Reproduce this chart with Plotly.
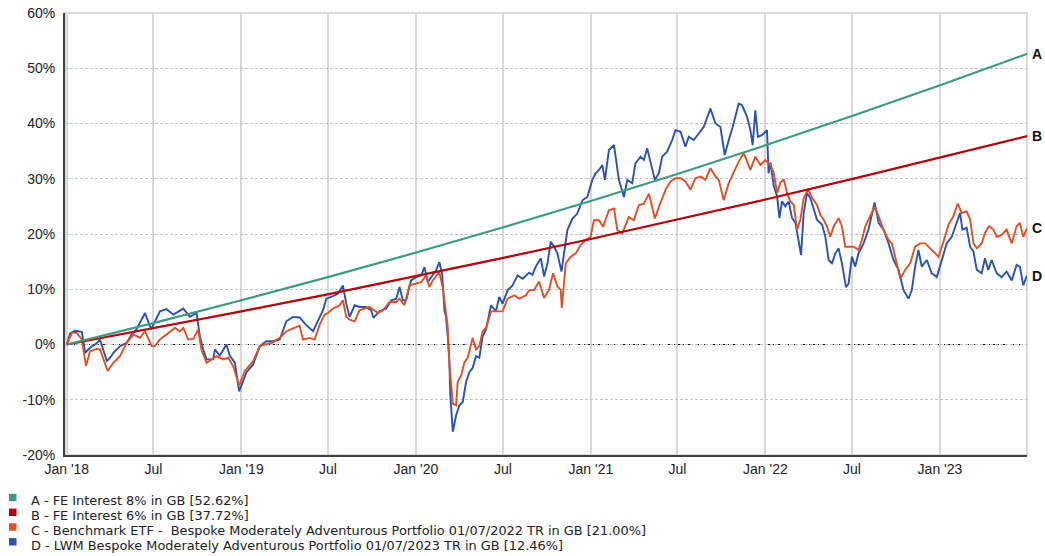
import numpy as np
import pandas as pd
import plotly.graph_objects as go

# ---------------- data ----------------
A_YEARS = [2018.0, 2018.5, 2019.0, 2019.5, 2020.0, 2020.5, 2021.0, 2021.5, 2022.0, 2022.5, 2023.0, 2023.5]
A_VALUES = [0.0, 3.92, 8.0, 12.24, 16.64, 21.22, 25.97, 30.91, 36.05, 41.39, 46.93, 52.62]

B_YEARS = [2018.0, 2018.5, 2019.0, 2019.5, 2020.0, 2020.5, 2021.0, 2021.5, 2022.0, 2022.5, 2023.0, 2023.5]
B_VALUES = [0.0, 2.96, 6.0, 9.13, 12.36, 15.68, 19.10, 22.62, 26.25, 29.98, 33.82, 37.72]

C_POINTS = [
    (2018.000, 0.0), (2018.029, 2.1), (2018.057, 2.1), (2018.086, 0.9), (2018.110, -3.9),
    (2018.133, -1.2), (2018.171, -0.8), (2018.190, -0.9), (2018.234, -4.8), (2018.267, -3.3),
    (2018.305, -2.1), (2018.343, 0.3), (2018.381, 1.8), (2018.419, 1.2), (2018.448, 2.4),
    (2018.486, -0.3), (2018.505, -0.3), (2018.533, 0.9), (2018.571, 1.8), (2018.619, 3.0),
    (2018.648, 2.4), (2018.667, 3.0), (2018.695, 0.9), (2018.724, 1.0), (2018.752, 2.7),
    (2018.771, -0.9), (2018.800, -3.3), (2018.829, -2.7), (2018.857, -2.1), (2018.895, -2.7),
    (2018.924, -2.4), (2018.952, -3.9), (2018.987, -7.4), (2019.019, -4.8), (2019.067, -3.0),
    (2019.105, -0.3), (2019.143, 0.0), (2019.181, 0.4), (2019.219, 1.2), (2019.257, 2.4),
    (2019.295, 2.9), (2019.333, 3.4), (2019.352, 0.9), (2019.390, 1.2), (2019.419, 0.9),
    (2019.448, 3.6), (2019.476, 5.4), (2019.495, 5.7), (2019.524, 6.5), (2019.562, 7.1),
    (2019.581, 8.0), (2019.600, 5.0), (2019.619, 4.5), (2019.648, 4.2), (2019.676, 6.2),
    (2019.733, 6.8), (2019.781, 5.7), (2019.810, 6.2), (2019.848, 7.7), (2019.886, 7.7),
    (2019.905, 8.3), (2019.933, 7.1), (2019.962, 10.7), (2020.000, 11.0), (2020.029, 11.3),
    (2020.057, 12.5), (2020.076, 10.4), (2020.095, 11.6), (2020.133, 13.1), (2020.152, 10.4),
    (2020.162, 8.0), (2020.181, 3.3), (2020.190, -3.3), (2020.200, -6.8), (2020.210, -10.7),
    (2020.229, -11.0), (2020.238, -6.8), (2020.257, -5.7), (2020.276, -3.3), (2020.295, -2.4),
    (2020.324, 1.2), (2020.343, -0.9), (2020.362, -0.3), (2020.381, 2.4), (2020.400, 3.0),
    (2020.429, 6.0), (2020.457, 6.0), (2020.495, 6.0), (2020.524, 8.3), (2020.562, 8.9),
    (2020.590, 8.3), (2020.629, 8.9), (2020.647, 9.8), (2020.676, 9.9), (2020.704, 11.4),
    (2020.733, 8.4), (2020.761, 9.9), (2020.784, 12.9), (2020.809, 10.5), (2020.828, 9.9),
    (2020.834, 6.6), (2020.857, 14.7), (2020.885, 15.9), (2020.914, 16.5), (2020.942, 18.0),
    (2020.971, 18.9), (2020.999, 19.5), (2021.018, 22.5), (2021.047, 22.5), (2021.070, 21.3),
    (2021.104, 24.3), (2021.133, 24.6), (2021.152, 20.7), (2021.180, 20.1), (2021.218, 23.1),
    (2021.247, 22.5), (2021.275, 25.2), (2021.304, 25.5), (2021.333, 27.3), (2021.348, 25.5),
    (2021.367, 22.8), (2021.390, 24.9), (2021.428, 28.0), (2021.457, 29.5), (2021.485, 30.1),
    (2021.514, 30.1), (2021.542, 29.5), (2021.571, 28.0), (2021.599, 30.1), (2021.628, 30.4),
    (2021.656, 29.8), (2021.685, 31.9), (2021.714, 30.4), (2021.733, 29.8), (2021.761, 26.1),
    (2021.790, 29.2), (2021.818, 31.0), (2021.847, 33.1), (2021.876, 34.6), (2021.895, 33.1),
    (2021.914, 31.6), (2021.942, 34.0), (2021.971, 32.5), (2021.999, 33.4), (2022.028, 32.5),
    (2022.048, 31.0), (2022.067, 27.4), (2022.086, 29.3), (2022.105, 29.9), (2022.124, 27.4),
    (2022.143, 25.9), (2022.162, 25.3), (2022.181, 20.8), (2022.200, 22.6), (2022.219, 26.5),
    (2022.244, 28.1), (2022.267, 26.5), (2022.295, 25.3), (2022.314, 23.5), (2022.333, 22.6),
    (2022.352, 21.4), (2022.371, 19.5), (2022.391, 21.4), (2022.419, 22.9), (2022.438, 21.4),
    (2022.457, 17.7), (2022.476, 17.7), (2022.505, 17.7), (2022.533, 17.1), (2022.552, 18.9),
    (2022.572, 21.4), (2022.600, 23.2), (2022.625, 24.9), (2022.648, 23.2), (2022.676, 20.8),
    (2022.705, 18.9), (2022.724, 18.3), (2022.752, 14.7), (2022.772, 11.9), (2022.800, 13.5),
    (2022.829, 14.7), (2022.857, 17.7), (2022.886, 18.3), (2022.914, 18.3), (2022.943, 17.4),
    (2022.972, 16.5), (2022.991, 15.9), (2023.019, 18.6), (2023.048, 21.7), (2023.076, 23.2),
    (2023.101, 25.5), (2023.124, 23.8), (2023.152, 24.1), (2023.172, 22.6), (2023.191, 18.3),
    (2023.210, 17.4), (2023.238, 18.3), (2023.257, 20.2), (2023.281, 21.4), (2023.305, 20.8),
    (2023.324, 19.5), (2023.352, 19.8), (2023.381, 20.8), (2023.410, 18.3), (2023.438, 21.4),
    (2023.457, 22.0), (2023.476, 19.5), (2023.497, 21.0),
]

D_POINTS = [
    (2018.000, 0.0), (2018.019, 2.0), (2018.048, 2.5), (2018.086, 2.3), (2018.105, -1.5),
    (2018.133, -0.6), (2018.171, 0.2), (2018.190, 0.9), (2018.229, -3.0), (2018.248, -2.4),
    (2018.267, -1.5), (2018.305, -0.3), (2018.343, 0.3), (2018.371, 1.8), (2018.400, 2.8),
    (2018.448, 5.7), (2018.476, 3.3), (2018.486, 2.9), (2018.533, 6.0), (2018.571, 6.4),
    (2018.610, 5.4), (2018.667, 6.5), (2018.705, 5.0), (2018.743, 5.7), (2018.762, 1.5),
    (2018.781, -0.9), (2018.800, -2.7), (2018.838, -2.7), (2018.848, -0.9), (2018.876, -2.0),
    (2018.914, 0.0), (2018.933, -2.0), (2018.962, -3.3), (2018.987, -8.5), (2019.029, -5.0),
    (2019.067, -3.6), (2019.105, -0.3), (2019.143, 0.6), (2019.181, 0.6), (2019.219, 0.9),
    (2019.257, 4.2), (2019.295, 5.0), (2019.333, 4.9), (2019.371, 3.5), (2019.410, 2.4),
    (2019.438, 4.2), (2019.467, 6.2), (2019.486, 8.3), (2019.514, 8.6), (2019.552, 9.2),
    (2019.581, 10.7), (2019.600, 7.4), (2019.619, 5.0), (2019.648, 7.1), (2019.676, 6.8),
    (2019.714, 6.8), (2019.743, 6.2), (2019.756, 4.8), (2019.790, 6.0), (2019.829, 6.5),
    (2019.857, 8.0), (2019.886, 8.3), (2019.905, 10.4), (2019.924, 8.0), (2019.943, 8.0),
    (2019.971, 11.6), (2020.000, 12.2), (2020.029, 12.5), (2020.048, 14.0), (2020.067, 11.3),
    (2020.086, 12.2), (2020.114, 13.4), (2020.133, 14.9), (2020.149, 12.8), (2020.162, 6.2),
    (2020.171, 5.0), (2020.181, 1.5), (2020.190, -2.7), (2020.196, -9.2), (2020.210, -15.8),
    (2020.229, -12.8), (2020.248, -11.0), (2020.267, -10.4), (2020.286, -6.8), (2020.305, -5.0),
    (2020.324, -4.2), (2020.343, -2.1), (2020.362, -2.4), (2020.381, 1.5), (2020.400, 2.7),
    (2020.429, 7.1), (2020.457, 6.0), (2020.476, 8.6), (2020.495, 7.4), (2020.524, 9.8),
    (2020.552, 10.7), (2020.581, 12.5), (2020.610, 11.9), (2020.647, 13.0), (2020.666, 12.6),
    (2020.685, 14.1), (2020.714, 15.6), (2020.733, 12.3), (2020.752, 14.7), (2020.771, 18.6),
    (2020.790, 17.7), (2020.809, 16.5), (2020.832, 13.2), (2020.847, 16.5), (2020.866, 20.7),
    (2020.895, 22.8), (2020.923, 23.7), (2020.952, 26.1), (2020.980, 26.7), (2021.009, 29.8),
    (2021.028, 31.0), (2021.047, 31.6), (2021.066, 32.5), (2021.081, 29.8), (2021.104, 35.2),
    (2021.133, 36.1), (2021.146, 32.8), (2021.161, 29.8), (2021.190, 26.7), (2021.209, 29.8),
    (2021.237, 29.2), (2021.256, 32.8), (2021.285, 34.0), (2021.304, 33.4), (2021.323, 35.5),
    (2021.342, 33.1), (2021.367, 29.8), (2021.390, 31.0), (2021.409, 34.0), (2021.437, 34.9),
    (2021.466, 37.0), (2021.485, 38.8), (2021.514, 38.5), (2021.542, 35.8), (2021.561, 37.6),
    (2021.590, 37.0), (2021.618, 38.2), (2021.647, 39.4), (2021.685, 42.7), (2021.714, 40.0),
    (2021.742, 39.4), (2021.767, 34.3), (2021.790, 37.0), (2021.813, 39.4), (2021.847, 43.6),
    (2021.866, 43.3), (2021.895, 41.2), (2021.914, 38.8), (2021.927, 36.1), (2021.942, 42.4),
    (2021.957, 37.6), (2021.980, 37.9), (2022.009, 38.8), (2022.018, 31.0), (2022.029, 32.9),
    (2022.048, 28.7), (2022.067, 26.8), (2022.080, 22.9), (2022.095, 25.9), (2022.114, 25.0),
    (2022.133, 25.9), (2022.152, 22.9), (2022.172, 22.0), (2022.191, 18.9), (2022.204, 16.2),
    (2022.219, 23.8), (2022.238, 27.4), (2022.257, 26.5), (2022.276, 24.4), (2022.295, 22.6),
    (2022.324, 21.7), (2022.343, 19.5), (2022.362, 15.3), (2022.381, 14.7), (2022.400, 16.5),
    (2022.419, 17.4), (2022.438, 14.7), (2022.461, 10.4), (2022.476, 11.0), (2022.495, 15.9),
    (2022.514, 14.1), (2022.533, 16.5), (2022.562, 18.3), (2022.590, 20.8), (2022.625, 25.7),
    (2022.648, 22.0), (2022.676, 20.8), (2022.705, 18.3), (2022.733, 15.3), (2022.762, 13.5),
    (2022.791, 9.8), (2022.819, 8.3), (2022.838, 9.8), (2022.857, 14.1), (2022.876, 17.1),
    (2022.895, 14.1), (2022.924, 15.3), (2022.952, 12.9), (2022.981, 12.2), (2023.010, 15.3),
    (2023.038, 18.3), (2023.067, 19.5), (2023.095, 22.3), (2023.114, 23.8), (2023.128, 20.8),
    (2023.152, 21.1), (2023.172, 17.7), (2023.191, 16.8), (2023.210, 13.5), (2023.238, 12.9),
    (2023.257, 15.6), (2023.276, 13.5), (2023.295, 15.3), (2023.324, 12.9), (2023.352, 12.2),
    (2023.381, 13.2), (2023.410, 11.6), (2023.438, 14.4), (2023.457, 14.1), (2023.476, 10.7),
    (2023.497, 12.46),
]

TICK_DATES = ["2018-01-01", "2018-07-01", "2019-01-01", "2019-07-01", "2020-01-01", "2020-07-01",
              "2021-01-01", "2021-07-01", "2022-01-01", "2022-07-01", "2023-01-01"]
TICK_LABELS = ["Jan '18", "Jul", "Jan '19", "Jul", "Jan '20", "Jul",
               "Jan '21", "Jul", "Jan '22", "Jul", "Jan '23"]
Y_TICKS = [-20, -10, 0, 10, 20, 30, 40, 50, 60]

END_LABELS = ["A", "B", "C", "D"]
LEGEND_TEXTS = [
    "A - FE Interest 8% in GB [52.62%]",
    "B - FE Interest 6% in GB [37.72%]",
    "C - Benchmark ETF -  Bespoke Moderately Adventurous Portfolio 01/07/2022 TR in GB [21.00%]",
    "D - LWM Bespoke Moderately Adventurous Portfolio 01/07/2023 TR in GB [12.46%]",
]
COLORS = ["#3f9a82", "#b4000c", "#de5028", "#2b52b0"]

# ---------------- helpers ----------------
def to_dates(years):
    yrs = np.asarray(years, dtype=float)
    return pd.Timestamp("2018-01-01") + pd.to_timedelta((yrs - 2018.0) * 365.25, unit="D")

c_years = [p[0] for p in C_POINTS]
c_vals = [p[1] for p in C_POINTS]
d_years = [p[0] for p in D_POINTS]
d_vals = [p[1] for p in D_POINTS]

series = {
    "A": (to_dates(A_YEARS), A_VALUES),
    "B": (to_dates(B_YEARS), B_VALUES),
    "C": (to_dates(c_years), c_vals),
    "D": (to_dates(d_years), d_vals),
}

W, H = 1045, 556
ML, MR, MT, MB = 65, 18, 13, 101
PW, PH = W - ML - MR, H - MT - MB

def px_x(px):
    return (px - ML) / PW

def px_y(py):
    return (H - MB - py) / PH

fig = go.Figure()

for key in ["D", "C", "B", "A"]:
    idx = END_LABELS.index(key)
    xs, ys = series[key]
    fig.add_trace(go.Scatter(
        x=xs, y=ys, mode="lines", name=LEGEND_TEXTS[idx],
        line=dict(color=COLORS[idx], width=2.2 if key in "AB" else 1.9),
        showlegend=False, hoverinfo="skip",
    ))

annotations = []
shapes = []

# plot border (light) and zero line
shapes.append(dict(type="rect", xref="paper", yref="paper", x0=0, x1=1, y0=0, y1=1,
                   line=dict(color="#cfcfcf", width=1.5), layer="below"))
shapes.append(dict(type="line", xref="paper", yref="y", x0=0, x1=1, y0=0, y1=0,
                   line=dict(color="#111111", width=1, dash="4px,2px,1px,2px"), layer="below"))

# end labels
for idx, key in enumerate(END_LABELS):
    xs, ys = series[key]
    annotations.append(dict(
        xref="paper", yref="y", x=1, y=ys[-1], xanchor="left", yanchor="middle",
        xshift=3, text="<b>%s</b>" % key, showarrow=False,
        font=dict(family="Liberation Sans, Arial, sans-serif", size=14, color="#111111"),
    ))

# legend (squares + text)
SQ_CENTERS = [497.5, 512.3, 527.0, 541.8]
TXT_CENTERS = [500.8, 515.5, 530.2, 545.0]
for idx, txt in enumerate(LEGEND_TEXTS):
    cy = SQ_CENTERS[idx]
    shapes.append(dict(type="rect", xref="paper", yref="paper",
                       x0=px_x(9), x1=px_x(16.5), y0=px_y(cy + 3.7), y1=px_y(cy - 3.7),
                       fillcolor=COLORS[idx], line=dict(width=0)))
    annotations.append(dict(
        xref="paper", yref="paper", x=px_x(29), y=px_y(TXT_CENTERS[idx]),
        xanchor="left", yanchor="middle", text=txt, showarrow=False,
        font=dict(family="DejaVu Sans, sans-serif", size=12.9, color="#222222"),
    ))

fig.update_layout(
    width=W, height=H,
    margin=dict(l=ML, r=MR, t=MT, b=MB, pad=0),
    paper_bgcolor="white", plot_bgcolor="white",
    showlegend=False,
    annotations=annotations, shapes=shapes,
    font=dict(family="Liberation Sans, Arial, sans-serif", size=14, color="#222222"),
)

fig.update_xaxes(
    type="date", range=["2017-12-28 06:00", "2023-07-02"],
    tickvals=TICK_DATES, ticktext=TICK_LABELS,
    showgrid=True, gridcolor="#d9d9d9", gridwidth=2,
    showline=True, linecolor="#404040", linewidth=2,
    ticks="", ticklabelstandoff=0, automargin=False,
    tickfont=dict(family="Liberation Sans, Arial, sans-serif", size=14, color="#222222"),
    zeroline=False,
)
fig.update_yaxes(
    range=[-20, 60], tickvals=Y_TICKS, ticktext=["%d%%" % v for v in Y_TICKS],
    showgrid=True, gridcolor="#c4c4c4", gridwidth=1, griddash="3px,2px",
    showline=True, linecolor="#404040", linewidth=2,
    ticks="", ticklabelstandoff=5, automargin=False,
    tickfont=dict(family="Liberation Sans, Arial, sans-serif", size=14, color="#222222"),
    zeroline=False,
)

fig.write_html(
    "out.html",
    config={"displayModeBar": False, "staticPlot": True},
    post_script="document.body.style.margin='0';document.body.style.padding='0';"
                "document.documentElement.style.overflow='hidden';",
)
